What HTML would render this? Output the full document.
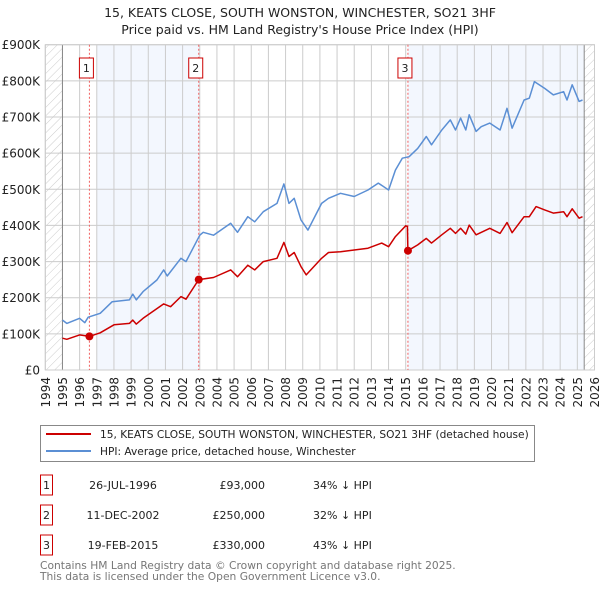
<!DOCTYPE html>
<html><head><meta charset="utf-8"><style>
body{margin:0;background:#fff;}
svg text{font-family:"DejaVu Sans","Liberation Sans",sans-serif;}
</style></head><body>
<svg id="c" width="600" height="590" xmlns="http://www.w3.org/2000/svg">
<defs><pattern id="h" width="6" height="6" patternUnits="userSpaceOnUse" patternTransform="rotate(45)"><line x1="0" y1="0" x2="0" y2="6" stroke="#ccc" stroke-width="1"/></pattern></defs>
<text x="300" y="17" text-anchor="middle" font-size="12.5" fill="#222">15, KEATS CLOSE, SOUTH WONSTON, WINCHESTER, SO21 3HF</text>
<text x="300" y="34" text-anchor="middle" font-size="12.5" fill="#222">Price paid vs. HM Land Registry's House Price Index (HPI)</text>
<g id="plot"></g>
<g>
<rect x="40.5" y="425.5" width="494" height="36" fill="#fff" stroke="#888"/>
<line x1="46" y1="434" x2="91" y2="434" stroke="#cc0000" stroke-width="2"/>
<text x="100" y="438" font-size="10.6" fill="#222">15, KEATS CLOSE, SOUTH WONSTON, WINCHESTER, SO21 3HF (detached house)</text>
<line x1="46" y1="451" x2="91" y2="451" stroke="#5b8fd4" stroke-width="2"/>
<text x="100" y="455" font-size="10.6" fill="#222">HPI: Average price, detached house, Winchester</text>
</g>
<g id="table" font-size="11" fill="#222"></g>
<text x="40" y="569" font-size="10.7" fill="#777">Contains HM Land Registry data © Crown copyright and database right 2025.</text>
<text x="40" y="580" font-size="10.7" fill="#777">This data is licensed under the Open Government Licence v3.0.</text>
</svg>
<script>
const hpiYears=[1995.0,1995.25,1996.0,1996.3,1996.5,1997.2,1997.9,1998.9,1999.1,1999.3,1999.7,2000.5,2000.9,2001.1,2001.9,2002.2,2003.0,2003.2,2003.8,2004.8,2005.2,2005.8,2006.2,2006.7,2007.5,2007.9,2008.2,2008.5,2008.9,2009.3,2010.1,2010.5,2011.2,2012.0,2012.8,2013.4,2014.0,2014.4,2014.8,2015.2,2015.7,2016.2,2016.5,2017.1,2017.6,2017.9,2018.2,2018.5,2018.7,2019.1,2019.4,2019.9,2020.5,2020.9,2021.2,2021.9,2022.2,2022.5,2023.1,2023.6,2024.2,2024.4,2024.7,2025.1,2025.3];
const hpiValues=[138,129,143,131,146,157,189,194,210,194,217,249,277,260,309,300,373,381,373,406,381,424,410,438,461,515,461,475,415,387,461,475,489,480,498,517,498,553,586,590,613,646,623,664,692,664,697,664,706,660,673,683,664,724,669,747,752,798,779,761,770,747,789,743,747];
const priceYears=[1995.0,1995.25,1996.0,1996.57,1997.2,1998.0,1998.9,1999.1,1999.3,1999.7,2000.9,2001.3,2001.9,2002.2,2002.94,2003.8,2004.8,2005.2,2005.8,2006.2,2006.7,2007.5,2007.9,2008.2,2008.5,2008.9,2009.2,2010.1,2010.5,2011.2,2012.0,2012.8,2013.6,2014.0,2014.4,2015.0,2015.1,2015.13,2015.7,2016.2,2016.5,2017.1,2017.6,2017.9,2018.2,2018.5,2018.7,2019.1,2019.9,2020.5,2020.9,2021.2,2021.9,2022.2,2022.6,2023.1,2023.6,2024.2,2024.4,2024.7,2025.1,2025.3];
const priceValues=[88,85,97,93,103,125,129,138,127,143,183,175,203,196,250,256,277,258,290,277,300,309,353,314,325,286,263,309,325,327,332,337,351,341,369,399,397,330,346,364,351,374,392,378,392,376,401,374,392,378,408,380,424,424,452,443,434,438,424,446,420,424];
const saleLabels=["1","2","3"];
const saleYears=[1996.57,2002.94,2015.13];
const saleValues=[93,250,330];
const saleDates=["26-JUL-1996","11-DEC-2002","19-FEB-2015"];
const salePrices=["£93,000","£250,000","£330,000"];
const saleDiffs=["34% ↓ HPI","32% ↓ HPI","43% ↓ HPI"];
const yTicks=[0,100,200,300,400,500,600,700,800,900];
const yTickLabels=["£0","£100K","£200K","£300K","£400K","£500K","£600K","£700K","£800K","£900K"];
const xTicks=[1994,1995,1996,1997,1998,1999,2000,2001,2002,2003,2004,2005,2006,2007,2008,2009,2010,2011,2012,2013,2014,2015,2016,2017,2018,2019,2020,2021,2022,2023,2024,2025,2026];

const L=45.3,R=594.5,T=44.7,B=370;
const X=y=>L+(y-1994)*(R-L)/32;
const Y=v=>B-v*(B-T)/900;
const NS="http://www.w3.org/2000/svg";
const plot=document.getElementById('plot');
function mk(tag,attrs,parent){const e=document.createElementNS(NS,tag);for(const k in attrs)e.setAttribute(k,attrs[k]);(parent||plot).appendChild(e);return e;}
let e;
e=mk('rect',{x:L,y:T,width:R-L,height:B-T,fill:'#fff'});


e=mk('rect',{x:X(1997),y:T,width:X(2003)-X(1997),height:B-T,fill:'#eef3fd',opacity:0.7});


e=mk('rect',{x:X(2015.13),y:T,width:X(2025.4)-X(2015.13),height:B-T,fill:'#eef3fd',opacity:0.7});


e=mk('rect',{x:L,y:T,width:X(1995)-L,height:B-T,fill:'url(#h)'});


e=mk('rect',{x:X(2025.4),y:T,width:R-X(2025.4),height:B-T,fill:'url(#h)'});


yTicks.forEach((v,i)=>{
 e=mk('line',{x1:L,x2:R,y1:Y(v),y2:Y(v),stroke:'#ccc','stroke-width':1});
 
 
 e=mk('text',{x:40,y:Y(v)+4.5,'text-anchor':'end','font-size':12,fill:'#222'});
 e.textContent=yTickLabels[i];
 
 
});
xTicks.forEach(t=>{
 e=mk('line',{x1:X(t),x2:X(t),y1:T,y2:B,stroke:'#ccc','stroke-width':1});
 
 
 e=mk('text',{x:0,y:0,'text-anchor':'end','font-size':12,fill:'#222',transform:`translate(${X(t)+4.5},377) rotate(-90)`});
 e.textContent=t;
 
 
});
e=mk('line',{x1:X(1995),x2:X(1995),y1:T,y2:B,stroke:'#888'});


e=mk('line',{x1:X(2025.4),x2:X(2025.4),y1:T,y2:B,stroke:'#888'});


e=mk('rect',{x:L,y:T,width:R-L,height:B-T,fill:'none',stroke:'#ccc'});


saleYears.forEach((s,i)=>{
 e=mk('line',{x1:X(s),x2:X(s),y1:T,y2:B,stroke:'#f06060','stroke-dasharray':'2,2'});
 
 
 e=mk('rect',{x:X(s)-10,y:58,width:14,height:20,fill:'#fff',stroke:'#cc0000'});
 
 
 e=mk('text',{x:X(s)-3,y:72,'text-anchor':'middle','font-size':11,fill:'#222'});
 e.textContent=saleLabels[i];
 
 
});
function line(xs,vs,col,name){
 const d=xs.map((x,i)=>(i?'L':'M')+X(x).toFixed(1)+','+Y(vs[i]).toFixed(1)).join('');
 const p=mk('path',{d:d,fill:'none',stroke:col,'stroke-width':1.5,'stroke-linejoin':'round'});
 
 
}
line(hpiYears,hpiValues,'#5b8fd4','hpi-line');
line(priceYears,priceValues,'#cc0000','price-line');
saleYears.forEach((s,i)=>{
 e=mk('circle',{cx:X(s),cy:Y(saleValues[i]),r:4,fill:'#cc0000'});
 
 
});
const tb=document.getElementById('table');
saleLabels.forEach((l,i)=>{
 const cy=485+i*30;
 e=mk('rect',{x:40.5,y:cy-10,width:12,height:20,fill:'#fff',stroke:'#cc0000'},tb);
 
 
 e=mk('text',{x:46.5,y:cy+4,'text-anchor':'middle'},tb);e.textContent=l;
 
 
 e=mk('text',{x:123,y:cy+4,'text-anchor':'middle'},tb);e.textContent=saleDates[i];
 
 
 e=mk('text',{x:265,y:cy+4,'text-anchor':'end'},tb);e.textContent=salePrices[i];
 
 
 e=mk('text',{x:313,y:cy+4},tb);e.textContent=saleDiffs[i];
 
 
});
</script>
</body></html>
